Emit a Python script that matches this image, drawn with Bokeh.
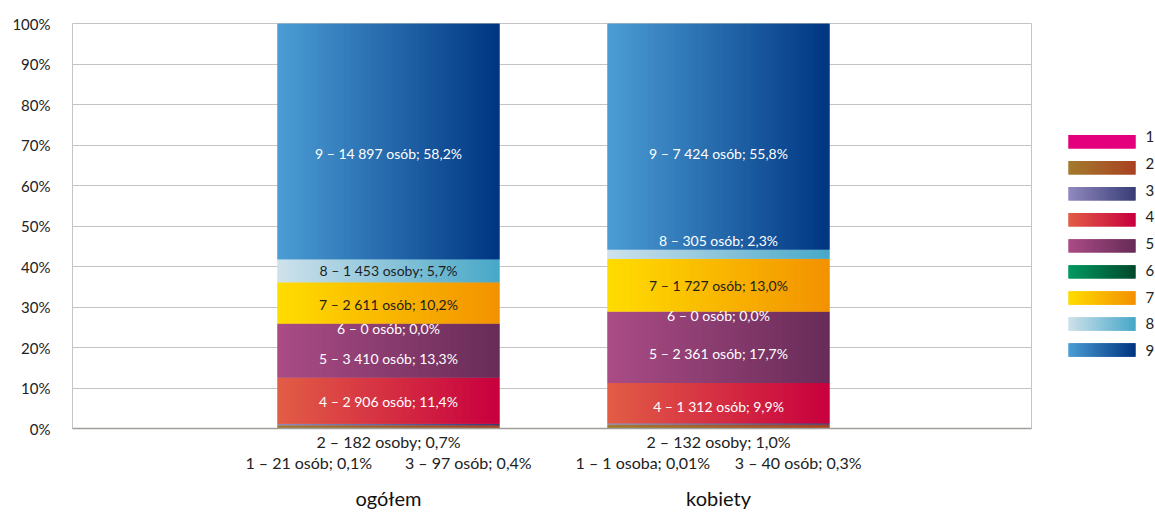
from bokeh.plotting import figure
from bokeh.models import Range1d, FixedTicker, PrintfTickFormatter, LinearAxis, ColumnDataSource
from bokeh.layouts import row
from bokeh.embed import file_html
from bokeh.resources import INLINE
from bokeh.core.properties import value

# ---------------- data ----------------
groups = ["ogółem", "kobiety"]
codes = ["1", "2", "3", "4", "5", "6", "7", "8", "9"]
pct_total = [0.1, 0.7, 0.4, 11.4, 13.3, 0.0, 10.2, 5.7, 58.2]
pct_women = [0.01, 1.0, 0.3, 9.9, 17.7, 0.0, 13.0, 2.3, 55.8]
labels_total = ["1 – 21 osób; 0,1%", "2 – 182 osoby; 0,7%", "3 – 97 osób; 0,4%",
                "4 – 2 906 osób; 11,4%", "5 – 3 410 osób; 13,3%", "6 – 0 osób; 0,0%",
                "7 – 2 611 osób; 10,2%", "8 – 1 453 osoby; 5,7%", "9 – 14 897 osób; 58,2%"]
labels_women = ["1 – 1 osoba; 0,01%", "2 – 132 osoby; 1,0%", "3 – 40 osób; 0,3%",
                "4 – 1 312 osób; 9,9%", "5 – 2 361 osób; 17,7%", "6 – 0 osób; 0,0%",
                "7 – 1 727 osób; 13,0%", "8 – 305 osób; 2,3%", "9 – 7 424 osób; 55,8%"]
y_ticks = [0, 10, 20, 30, 40, 50, 60, 70, 80, 90, 100]

# ---------------- style ----------------
FONT = "Lato"
grad_left = ["#e4007c", "#a27c2e", "#918bc0", "#e25e46", "#ab4c86", "#009a62", "#ffdd00", "#d0e2ec", "#4c9ed6"]
grad_right = ["#e4007c", "#aa4222", "#3a3e78", "#c8003e", "#682c58", "#004a2c", "#f39200", "#48a8c8", "#003682"]
dark_text = "#1e1e1e"
in_colors = {
    0: ["white", "white", "white", dark_text, dark_text, "white"],
    1: ["white", "white", "white", dark_text, "white", "white"],
}
in_adjust = {
    0: [-0.2, -2.0, -1.2, -0.4, 0.0, -3.0],
    1: [-0.9, -1.65, -1.1, 0.0, 3.25, -4.25],
}
gap_spaces = [8, 6]
PPU = 330.0                      # pixels per x unit
X0 = 1 - (388 - 72) / PPU        # x-range start
X1 = X0 + 959 / PPU              # x-range end
BAR_W = 222 / PPU
N_STRIPS = 60


def hex2rgb(h):
    h = h.lstrip("#")
    return tuple(int(h[i:i + 2], 16) for i in (0, 2, 4))


def mix(c1, c2, t):
    a, b = hex2rgb(c1), hex2rgb(c2)
    return "#%02x%02x%02x" % tuple(round(a[i] + (b[i] - a[i]) * t) for i in range(3))


def gradient_strips(x_left, width, bottom, top, c_left, c_right, n, out):
    """overlapping strips (each two steps wide) so every column is covered twice"""
    s = width / n
    for i in range(n + 1):
        out["l"].append(x_left + max(0, i - 1) * s)
        out["r"].append(x_left + min(n, i + 1) * s)
        out["b"].append(bottom)
        out["t"].append(top)
        out["c"].append(mix(c_left, c_right, i / n))


p = figure(width=1048, height=512, x_range=Range1d(X0, X1), y_range=Range1d(0, 100),
           toolbar_location=None, output_backend="svg",
           min_border_left=72, min_border_right=17, min_border_top=23, min_border_bottom=84)
p.outline_line_color = "#c4c4c4"
p.background_fill_color = "white"
p.border_fill_color = "white"
p.xgrid.visible = False
p.ygrid.grid_line_color = "#c4c4c4"
p.ygrid.ticker = FixedTicker(ticks=y_ticks)

p.yaxis.ticker = FixedTicker(ticks=y_ticks)
p.yaxis.formatter = PrintfTickFormatter(format="%d%%")
p.yaxis.axis_line_color = None
p.yaxis.major_tick_line_color = None
p.yaxis.minor_tick_line_color = None
p.yaxis.major_tick_out = 0
p.yaxis.major_label_standoff = 22
p.yaxis.major_label_text_font = FONT
p.yaxis.major_label_text_font_size = "15px"
p.yaxis.major_label_text_color = "#222222"

series = [pct_total, pct_women]
texts = [labels_total, labels_women]

# first bottom axis: small-segment labels (codes 1-3)
small_lbl = {}
for g in range(2):
    t = texts[g]
    small_lbl[g + 1] = t[1] + "\n" + t[0] + "\u00a0" * gap_spaces[g] + t[2]
ax1 = p.xaxis[0]
ax1.ticker = FixedTicker(ticks=[1, 2])
ax1.major_label_overrides = small_lbl
ax1.axis_line_color = "#9e9e9a"
ax1.axis_line_width = 1.5
ax1.major_tick_line_color = None
ax1.minor_tick_line_color = None
ax1.major_tick_out = 0
ax1.major_tick_in = 0
ax1.major_label_standoff = 3
ax1.major_label_text_font = FONT
ax1.major_label_text_font_size = "16px"
ax1.major_label_text_line_height = 1.14
ax1.major_label_text_color = "#222222"

# second bottom axis: category names
ax2 = LinearAxis(ticker=FixedTicker(ticks=[1, 2]), major_label_overrides={1: groups[0], 2: groups[1]})
ax2.axis_line_color = None
ax2.major_tick_line_color = None
ax2.minor_tick_line_color = None
ax2.major_tick_out = 0
ax2.major_tick_in = 0
ax2.major_label_standoff = 10
ax2.major_label_text_font = FONT
ax2.major_label_text_font_size = "20px"
ax2.major_label_text_color = "#111111"
p.add_layout(ax2, "below")

strips = dict(l=[], r=[], b=[], t=[], c=[])
tx, ty, tt, tc = [], [], [], []
for g, vals in enumerate(series):
    xc = g + 1
    left = xc - BAR_W / 2
    cum = 0.0
    for k, v in enumerate(vals):
        if v > 0:
            gradient_strips(left, BAR_W, cum, cum + v, grad_left[k], grad_right[k], N_STRIPS, strips)
        if k >= 3:
            tx.append(xc)
            ty.append(cum + v / 2 + in_adjust[g][k - 3])
            tt.append(texts[g][k])
            tc.append(in_colors[g][k - 3])
        cum += v

p.quad(left="l", right="r", bottom="b", top="t", fill_color="c", line_color=None,
       source=ColumnDataSource(strips))
p.text(x="x", y="y", text="t", text_color="c", text_align="center", text_baseline="middle",
       text_font=value(FONT), text_font_size="14px",
       source=ColumnDataSource(dict(x=tx, y=ty, t=tt, c=tc)))

# ---------------- legend (gradient swatches) ----------------
leg = figure(width=107, height=512, x_range=Range1d(0, 107), y_range=Range1d(512, 0),
             x_axis_type=None, y_axis_type=None, toolbar_location=None, output_backend="svg",
             min_border=0)
leg.outline_line_color = None
leg.background_fill_color = "white"
leg.border_fill_color = "white"

lstrips = dict(l=[], r=[], b=[], t=[], c=[])
lx, ly, lt = [], [], []
sw_l, sw_w, sw_h = 20, 67, 17
for k, code in enumerate(codes):
    top = 141 + 32.9 * k
    gradient_strips(sw_l, sw_w, top + sw_h, top, grad_left[k], grad_right[k], 30, lstrips)
    lx.append(97)
    ly.append(143 + 33.8 * k)
    lt.append(code)

leg.quad(left="l", right="r", bottom="b", top="t", fill_color="c", line_color=None,
         source=ColumnDataSource(lstrips))
leg.text(x="x", y="y", text="t", text_align="left", text_baseline="middle",
         text_font=value(FONT), text_font_size="15px", text_color="#222222",
         source=ColumnDataSource(dict(x=lx, y=ly, t=lt)))

layout = row(p, leg)
open("out.html", "w").write(file_html(layout, INLINE))
